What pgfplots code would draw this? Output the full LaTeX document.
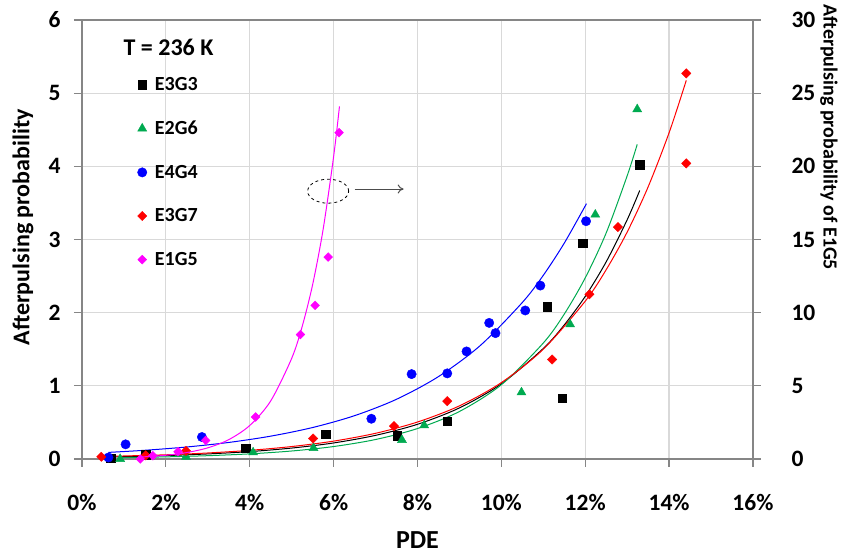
\documentclass[border=0pt]{standalone}
\usepackage{pgfplots}
\pgfplotsset{compat=1.18}
\usepackage{pgfplotstable}
\usepackage{fontspec}
\setmainfont{Carlito}
\usetikzlibrary{arrows.meta}

\definecolor{cgreen}{RGB}{0,170,80}
\definecolor{cgrid}{RGB}{217,217,217}
\definecolor{caxis}{RGB}{134,134,134}
\definecolor{cmag}{RGB}{255,0,255}
\definecolor{cblue}{RGB}{0,0,255}
\definecolor{cred}{RGB}{255,0,0}

% ---- data (x in %) ----
\pgfplotstableread{
x y
0.68 0.01
1.52 0.06
3.90 0.146
5.81 0.34
7.52 0.32
8.71 0.52
11.10 2.08
11.45 0.83
11.94 2.95
13.30 4.02
}\EthreeGthree
\pgfplotstableread{
x y
0.91 0.00
2.48 0.03
4.08 0.09
5.52 0.15
7.63 0.26
8.16 0.46
10.48 0.91
11.64 1.84
12.24 3.34
13.24 4.78
}\EtwoGsix
\pgfplotstableread{
x y
0.63 0.02
1.04 0.20
2.86 0.30
6.90 0.55
7.86 1.16
8.71 1.17
9.17 1.47
9.71 1.86
9.86 1.72
10.57 2.03
10.93 2.37
12.02 3.25
}\EfourGfour
\pgfplotstableread{
x y
0.46 0.03
1.52 0.05
2.48 0.11
5.51 0.28
7.44 0.45
8.71 0.79
11.21 1.36
12.10 2.25
12.78 3.17
14.41 5.27
14.41 4.04
}\EthreeGseven
\pgfplotstableread{
x y
1.39 0.00
1.69 0.22
2.29 0.50
2.95 1.27
4.14 2.87
5.21 8.50
5.56 10.50
5.87 13.80
6.13 22.30
}\EoneGfive

% ---- trend curves ----
\pgfplotstableread{
x y
0.68 0.028
2 0.047
3 0.069
4 0.101
5 0.149
6 0.219
7 0.323
8 0.474
9 0.698
10 1.027
11 1.510
11.5 1.832
12 2.222
12.5 2.695
13 3.269
13.3 3.67
}\fitEthreeGthree
\pgfplotstableread{
x y
0.91 0.018
2 0.029
3 0.045
4 0.070
5 0.109
6 0.170
7 0.266
8 0.416
9 0.649
10 1.015
11 1.585
11.5 1.98
12 2.475
12.5 3.09
13 3.87
13.24 4.30
}\fitEtwoGsix
\pgfplotstableread{
x y
0.63 0.090
1.5 0.119
2.5 0.164
3.5 0.226
4.5 0.312
5.5 0.430
6.5 0.592
7.5 0.816
8.5 1.126
9.5 1.552
10.5 2.139
11.0 2.51
11.5 2.95
12.03 3.49
}\fitEfourGfour
\pgfplotstableread{
x y
0.46 0.033
2 0.057
3 0.082
4 0.118
5 0.170
6 0.244
7 0.351
8 0.505
9 0.726
10 1.044
11 1.500
12 2.157
12.5 2.587
13 3.101
13.5 3.719
14 4.459
14.41 5.175
}\fitEthreeGseven
\pgfplotstableread{
x y
1.39 0.130
2 0.254
2.5 0.439
3 0.762
3.5 1.321
4 2.289
4.5 3.967
5 6.876
5.25 9.05
5.5 11.92
5.75 15.69
6 20.66
6.14 24.10
}\fitEoneGfive

\pgfplotsset{
  base/.style={
    scale only axis, width=671pt, height=439pt,
    xmin=0, xmax=16,
    /pgf/number format/assume math mode=true,
    tick align=outside, major tick length=8pt,
    tick style={caxis, line width=1.2pt},
    axis line style={caxis, line width=1.2pt},
    tick label style={font=\fontsize{23.5}{27}\selectfont\bfseries, text=black},
  },
}

\begin{document}
\begin{tikzpicture}
\begin{axis}[base,
  ymin=0, ymax=6, ytick={0,1,...,6},
  xtick={0,2,...,16},
  xticklabel={\pgfmathprintnumber{\tick}\%},
  xtick pos=bottom, ytick pos=left,
  grid=major, grid style={cgrid, line width=1.2pt},
  xticklabel style={anchor=center, yshift=-36pt},
  yticklabel style={anchor=east, xshift=-10pt},
  xlabel={PDE},
  xlabel style={font=\fontsize{26}{30}\selectfont\bfseries, at={(rel axis cs:0.5,0)}, anchor=center, yshift=-81pt},
  ylabel={Afterpulsing probability},
  ylabel style={font=\fontsize{24}{28}\selectfont\bfseries, at={([xshift=-59pt]rel axis cs:0,0.528)}, anchor=center},
  legend style={at={(rel axis cs:0.078,0.879)}, anchor=north west, draw=none, fill=none,
    font=\fontsize{20}{24}\selectfont\bfseries, row sep=25pt, column sep=6pt},
  legend cell align=left,
]
\addplot[black, line width=1pt, smooth, forget plot] table {\fitEthreeGthree};
\addplot[cgreen, line width=1pt, smooth, forget plot] table {\fitEtwoGsix};
\addplot[cblue, line width=1pt, smooth, forget plot] table {\fitEfourGfour};
\addplot[cred, line width=1pt, smooth, forget plot] table {\fitEthreeGseven};

\addplot[only marks, mark=square*, mark size=4.2pt, color=black] table {\EthreeGthree};
\addlegendentry{E3G3}
\addplot[only marks, mark=triangle*, mark size=5.2pt, color=cgreen] table {\EtwoGsix};
\addlegendentry{E2G6}
\addplot[only marks, mark=*, mark size=4.7pt, color=cblue] table {\EfourGfour};
\addlegendentry{E4G4}
\addplot[only marks, mark=square*, mark size=3.3pt, mark options={rotate=45}, color=cred] table {\EthreeGseven};
\addlegendentry{E3G7}
\addlegendimage{only marks, mark=square*, mark size=3.1pt, mark options={rotate=45}, color=cmag}
\addlegendentry{E1G5}

\node[font=\fontsize{24}{28}\selectfont\bfseries] at (rel axis cs:0.129,0.9385) {T = 236 K};
\draw[black, dashed, line width=0.8pt] (axis cs:5.87,3.66) ellipse [x radius=20.5pt, y radius=12pt];
\draw[black!70, line width=1pt, -{To[length=6pt,width=9pt]}] (axis cs:6.5,3.69) -- (axis cs:7.67,3.69);
\end{axis}

\begin{axis}[base,
  ymin=0, ymax=30, ytick={0,5,...,30},
  axis x line=none, axis y line*=right,
  yticklabel style={anchor=west, xshift=27pt},
  clip=false,
]
\addplot[cmag, line width=1pt, smooth] table {\fitEoneGfive};
\addplot[only marks, mark=square*, mark size=3.1pt, mark options={rotate=45}, color=cmag] table {\EoneGfive};
\node[font=\fontsize{20}{24}\selectfont\bfseries, rotate=-90, anchor=center] at ([xshift=76pt]rel axis cs:1,0.733) {Afterpulsing probability of E1G5};
\end{axis}

\path (current axis.south west) ++(-82pt,-95pt) coordinate (bbA);
\path (current axis.north east) ++(88pt,20pt) coordinate (bbB);
\path (bbA) rectangle (bbB);
\end{tikzpicture}
\end{document}
